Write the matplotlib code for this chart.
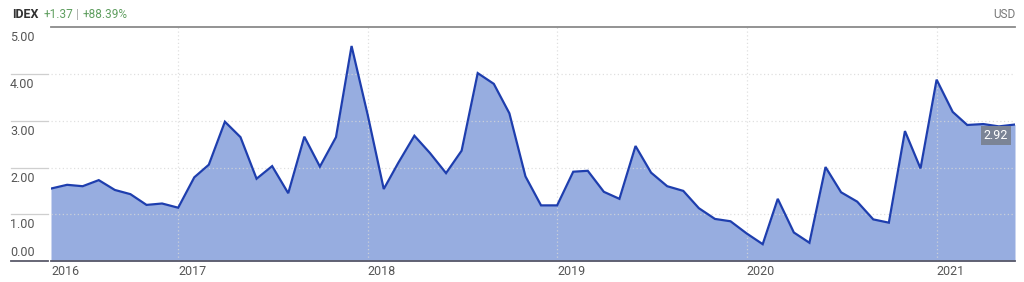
import matplotlib
matplotlib.use("Agg")
import matplotlib.pyplot as plt
from matplotlib.lines import Line2D
import matplotlib.transforms as mtransforms
import pandas as pd

plt.rcParams['font.family'] = ['Liberation Sans Narrow', 'Roboto', 'DejaVu Sans']

# ---- data ----
start_month = "2016-05-01"
values = [1.55, 1.63, 1.60, 1.73, 1.52, 1.43, 1.20, 1.23,
          1.14, 1.79, 2.06, 2.98, 2.65, 1.76, 2.03, 1.45, 2.66, 2.02, 2.65, 4.60,
          3.13, 1.54, 2.10, 2.68, 2.31, 1.88, 2.36, 4.02, 3.79, 3.16, 1.81, 1.19,
          1.19, 1.91, 1.93, 1.48, 1.33, 2.46, 1.89, 1.60, 1.50, 1.13, 0.90, 0.85,
          0.59, 0.36, 1.33, 0.61, 0.39, 2.01, 1.47, 1.27, 0.89, 0.82, 2.78, 1.98,
          3.88, 3.19, 2.91, 2.93, 2.88, 2.92]
dates = pd.date_range(start_month, periods=len(values), freq="MS")
year_ticks = ["2016-05-01", "2017-01-01", "2018-01-01", "2019-01-01", "2020-01-01", "2021-01-01"]
year_labels = ["2016", "2017", "2018", "2019", "2020", "2021"]
y_ticks = [0, 1, 2, 3, 4, 5]
y_labels = ["0.00", "1.00", "2.00", "3.00", "4.00", "5.00"]
ticker = "IDEX"
change_abs = "+1.37"
change_pct = "+88.39%"
currency = "USD"
last_label = "2.92"

W, H = 1024, 282
fig = plt.figure(figsize=(W / 100, H / 100), dpi=100)
ax = fig.add_axes([51 / W, 21 / H, 964 / W, 233.7 / H])

fill_c = "#97ade0"
line_c = "#1e3eae"
ax.fill_between(dates, values, 0, color=fill_c, lw=0, zorder=1)
ax.plot(dates, values, color=line_c, lw=1.6, zorder=3, solid_joinstyle="miter")

ax.set_xlim(dates[0], dates[-1])
ax.set_ylim(0, 5)

# grid lines
for yv in y_ticks[1:-1]:
    ax.axhline(yv, color="#d8d8d8", lw=0.9, ls=(0, (1, 2)), zorder=2, alpha=0.8)
for d in year_ticks[1:]:
    ax.axvline(pd.Timestamp(d), color="#d8d8d8", lw=0.9, ls=(0, (1, 2)), zorder=2, alpha=0.8)

for s in ["left", "right"]:
    ax.spines[s].set_visible(False)
ax.spines["top"].set_color("#8a8a8a")
ax.spines["top"].set_linewidth(1.3)
ax.spines["bottom"].set_color("#5a5a6a")
ax.spines["bottom"].set_linewidth(1.3)
ax.spines["bottom"].set_zorder(4)

ax.set_yticks([])
ax.set_xticks([pd.Timestamp(d) for d in year_ticks])
ax.set_xticklabels(year_labels, ha="left", color="#555555", fontsize=9)
ax.tick_params(axis="x", length=0, pad=3)

# y labels with short segments at left
trans = mtransforms.blended_transform_factory(fig.transFigure, ax.transData)
for yv, lab in zip(y_ticks, y_labels):
    if yv == 0:
        ax.annotate(lab, xy=(10 / W, yv), xycoords=("figure fraction", "data"),
                    xytext=(0, 1.5), textcoords="offset points",
                    ha="left", va="bottom", fontsize=9, color="#555555")
    else:
        ax.annotate(lab, xy=(10 / W, yv), xycoords=("figure fraction", "data"),
                    xytext=(0, -3), textcoords="offset points",
                    ha="left", va="top", fontsize=9, color="#555555")
    if yv < 5:
        ln = Line2D([11 / W, 48 / W], [yv, yv], transform=trans,
                    color="#5a5a6a" if yv == 0 else "#cfcfcf",
                    lw=1.3 if yv == 0 else 0.9, clip_on=False)
        fig.add_artist(ln)

# header, chained left to right
renderer = fig.canvas.get_renderer()
x_px = 12
parts = [(ticker, "#333333", "bold", 9, 5),
         (change_abs, "#5f9e5f", "normal", 8.5, 3),
         ("|", "#aaaaaa", "normal", 8.5, 3),
         (change_pct, "#5f9e5f", "normal", 8.5, 0)]
for txt, col, fw, fs, gap in parts:
    t = fig.text(x_px / W, 1 - 15 / H, txt, fontsize=fs, fontweight=fw, color=col,
                 va="center", ha="left")
    bb = t.get_window_extent(renderer=renderer)
    x_px = bb.x1 + gap
fig.text(1015 / W, 1 - 15 / H, currency, fontsize=8.5, color="#777777", va="center", ha="right")

# last value label
ax.annotate(last_label, xy=(dates[-1], values[-1]), xycoords="data",
            xytext=(-5, -8), textcoords="offset points", ha="right", va="center",
            fontsize=9, color="white",
            bbox=dict(boxstyle="square,pad=0.25", fc="#7b8496", ec="none"), zorder=5)

fig.savefig("out.png", dpi=100)
